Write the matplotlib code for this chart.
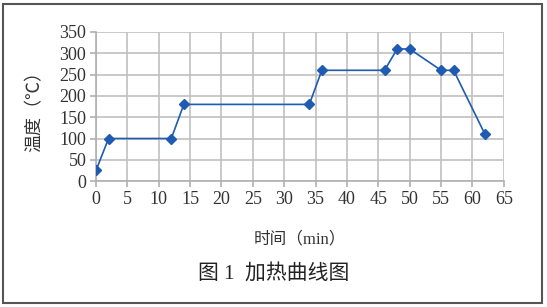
import matplotlib.pyplot as plt
from matplotlib.patches import Rectangle

plt.rcParams['font.family'] = ['Liberation Serif', 'Noto Sans CJK SC']

# 加热曲线数据
time_min = [0, 2, 12, 14, 34, 36, 46, 48, 50, 55, 57, 62]
temp_c = [25, 100, 100, 180, 180, 260, 260, 310, 310, 260, 260, 110]
x_ticks = list(range(0, 66, 5))
y_ticks = list(range(0, 351, 50))

fig = plt.figure(figsize=(5.47, 3.07), dpi=100)
ax = fig.add_axes([0.1755, 0.41, 0.7455, 0.486])

ax.plot(time_min, temp_c, color="#1f5bb0", linewidth=1.2, marker="D",
        markersize=5.5, zorder=3)

ax.set_xlim(0, 65)
ax.set_ylim(0, 350)
ax.set_xticks(x_ticks)
ax.set_yticks(y_ticks)
ax.grid(True, color="#c0c0c0", linewidth=1.2)
ax.set_axisbelow(True)
for side in ["top", "right"]:
    ax.spines[side].set_visible(False)
for side in ["left", "bottom"]:
    ax.spines[side].set_color("#b0b0b0")
    ax.spines[side].set_linewidth(1.2)
ax.tick_params(axis="both", labelsize=13, length=4, width=1.2,
               color="#b0b0b0", labelcolor="#333333", pad=3)

ax.set_xlabel("时间（min）", fontsize=12, color="#333333", labelpad=17)
ax.set_ylabel("温度（℃）", fontsize=13, color="#333333", labelpad=11,
              family=['Noto Sans CJK SC', 'DejaVu Sans'])

fig.text(0.5, 0.11, "图 1  加热曲线图", ha="center", va="center",
         fontsize=15, color="#222222")

fig.patches.append(Rectangle((0.006, 0.012), 0.984, 0.975, transform=fig.transFigure,
                             fill=False, edgecolor="#555555", linewidth=1.5))

fig.savefig("out.png", dpi=100)
